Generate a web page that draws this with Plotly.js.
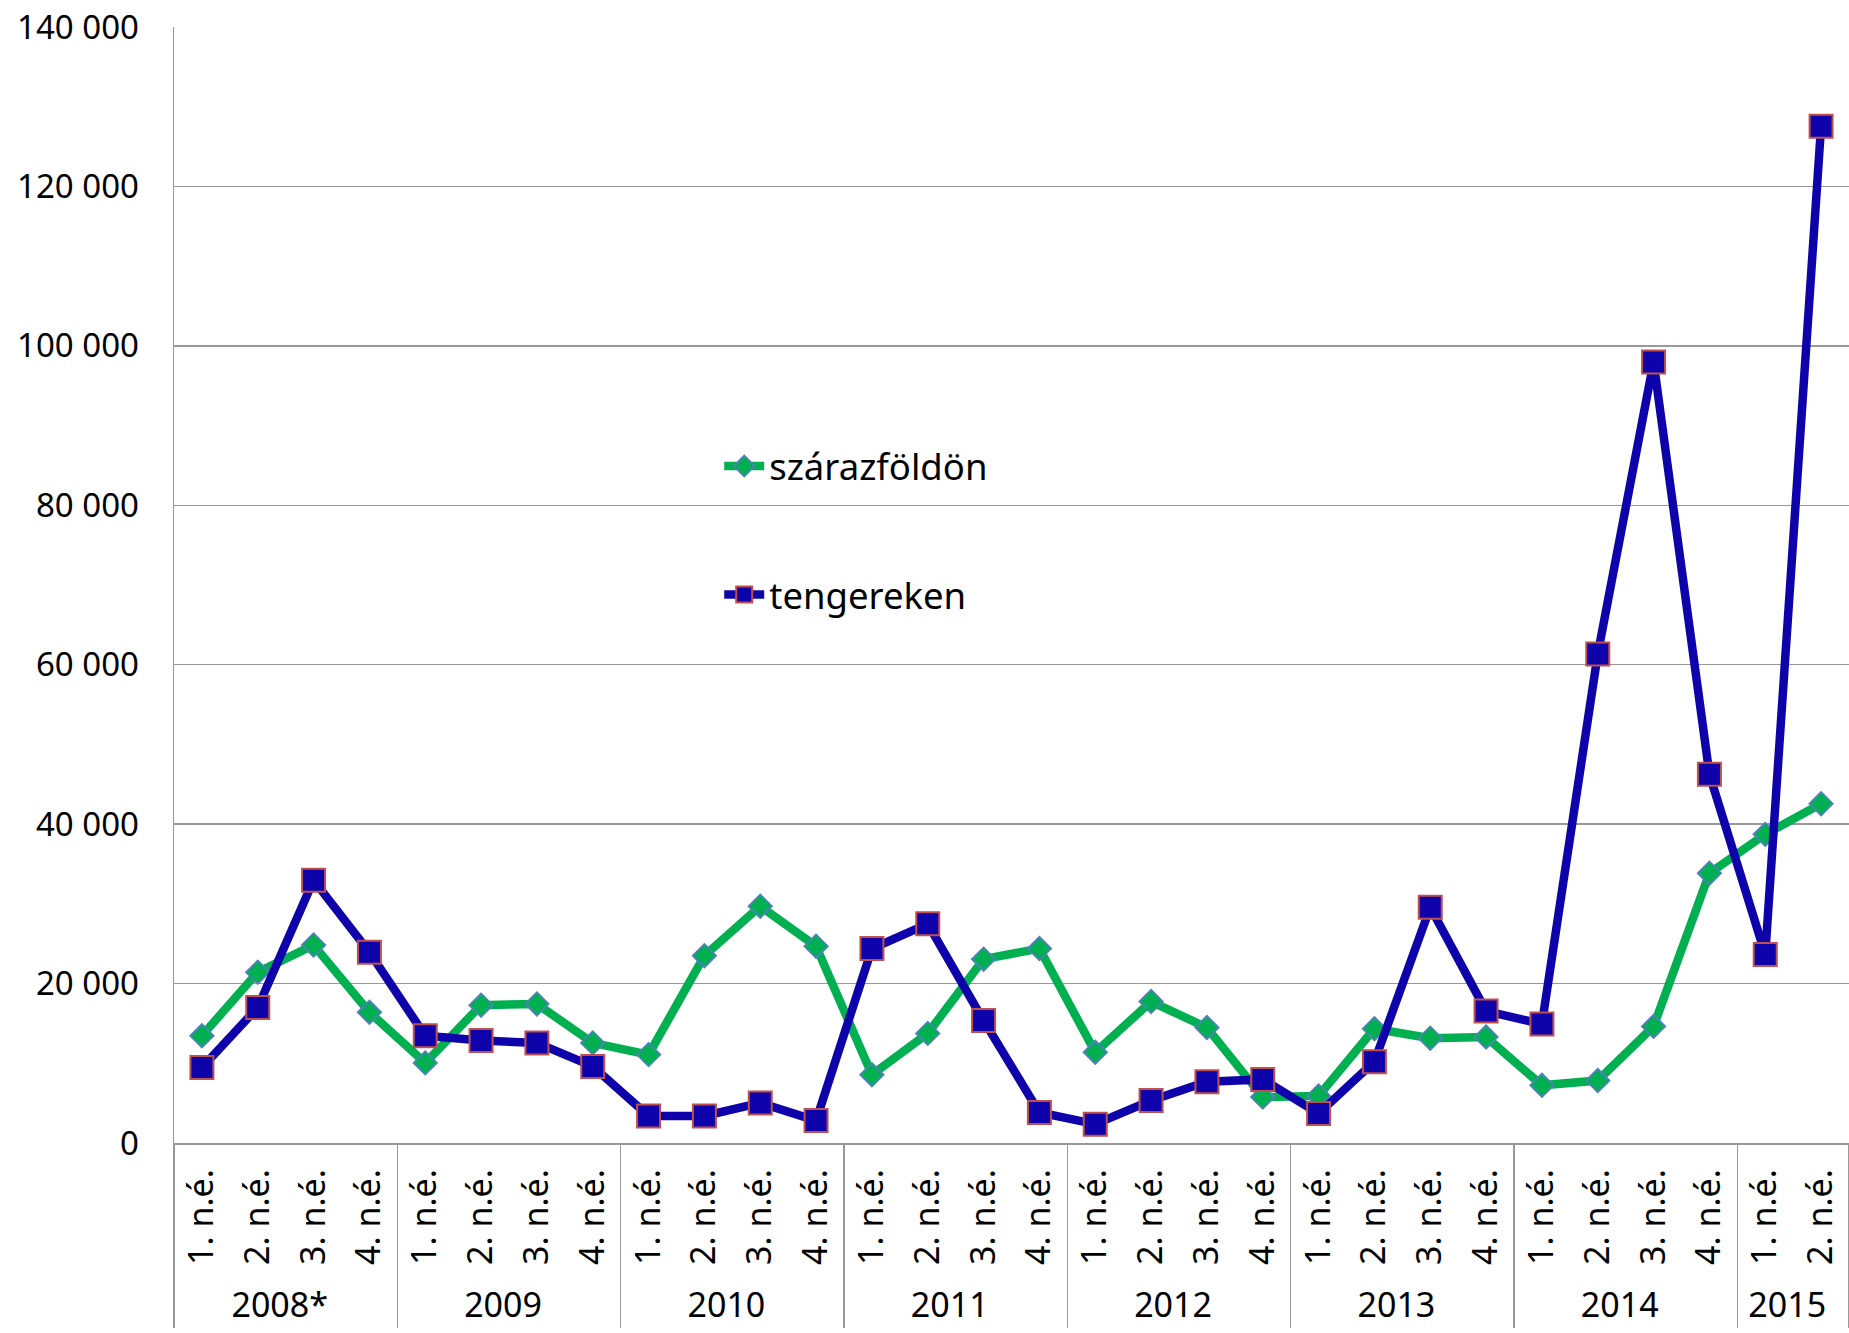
<!DOCTYPE html>
<html><head><meta charset="utf-8">
<script src="https://cdn.plot.ly/plotly-3.0.1.min.js"></script>
<style>html,body{margin:0;padding:0;background:#fff;} #chart{width:1849px;height:1333px;}</style>
</head><body><div id="chart"></div>
<script>
const years = ["2008*","2009","2010","2011","2012","2013","2014","2015"];
const quartersPerYear = [4,4,4,4,4,4,4,2];
const quarterLabels = ["1. n.é.","2. n.é.","3. n.é.","4. n.é."];
const szarazfoldon = [13450,21430,24830,16400, 10050,17290,17440,12560, 11090,23500,29710,24680,
  8570,13750,23060,24390, 11380,17740,14480,5760, 5910,14340,13150,13300, 7240,7830,14630,33850, 38720,42570];
const tengereken = [9460,17000,32960,23940, 13450,12860,12560,9610, 3400,3400,5030,2810,
  24390,27490,15370,3840, 2360,5320,7690,7980, 3700,10200,29560,16550, 14930,61340,97980,46260, 23650,127550];
const seriesNames = ["szárazföldön","tengereken"];

const xYear = [], xQuarter = [];
years.forEach((y,i)=>{ for(let q=0;q<quartersPerYear[i];q++){ xYear.push(y); xQuarter.push(quarterLabels[q]); } });

const FONT = "Noto Sans";
const grid = "#999999";

const traces = [
  {x:[xYear,xQuarter], y:szarazfoldon, name:seriesNames[0], type:"scatter", mode:"lines+markers",
   legendgroup:"a",
   line:{color:"#00B050", width:8.5},
   marker:{symbol:"diamond", size:18, color:"#00B050", line:{color:"#4F81BD", width:1.8}}},
  {x:[xYear,xQuarter], y:tengereken, name:seriesNames[1], type:"scatter", mode:"lines+markers",
   legendgroup:"b",
   line:{color:"#0E03AB", width:8.5},
   marker:{symbol:"square", size:23, color:"#0E03AB", line:{color:"#C0504D", width:2}}}
];

const layout = {
  width:1849, height:1333,
  margin:{l:174, r:0, t:27, b:190, pad:0},
  paper_bgcolor:"#fff", plot_bgcolor:"#fff",
  separators:", ",
  font:{family:FONT, size:33, color:"#000"},
  showlegend:true,
  legend:{x:0.3255, y:0.549, xanchor:"left", yanchor:"middle", bgcolor:"rgba(0,0,0,0)",
          font:{family:FONT, size:36.5, color:"#000"}, tracegroupgap:78, itemwidth:40},
  xaxis:{type:"multicategory", range:[-0.5,29.5], showline:true, linecolor:grid, linewidth:1.5,
         tickangle:-90, tickfont:{family:FONT, size:34, color:"#000"}, showgrid:false, ticks:"",
         ticklabelstandoff:11,
         showdividers:true, dividercolor:grid, dividerwidth:1.5, zeroline:false},
  yaxis:{range:[0,140000], dtick:20000, tick0:0, tickformat:",d", showgrid:true, gridcolor:grid, gridwidth:1.5,
         showline:true, linecolor:grid, linewidth:1.5, ticks:"", zeroline:false, ticklabelstandoff:27,
         tickfont:{family:FONT, size:33, color:"#000"}},
  hovermode:false
};
Plotly.newPlot("chart", traces, layout, {staticPlot:true, displayModeBar:false});
</script></body></html>
